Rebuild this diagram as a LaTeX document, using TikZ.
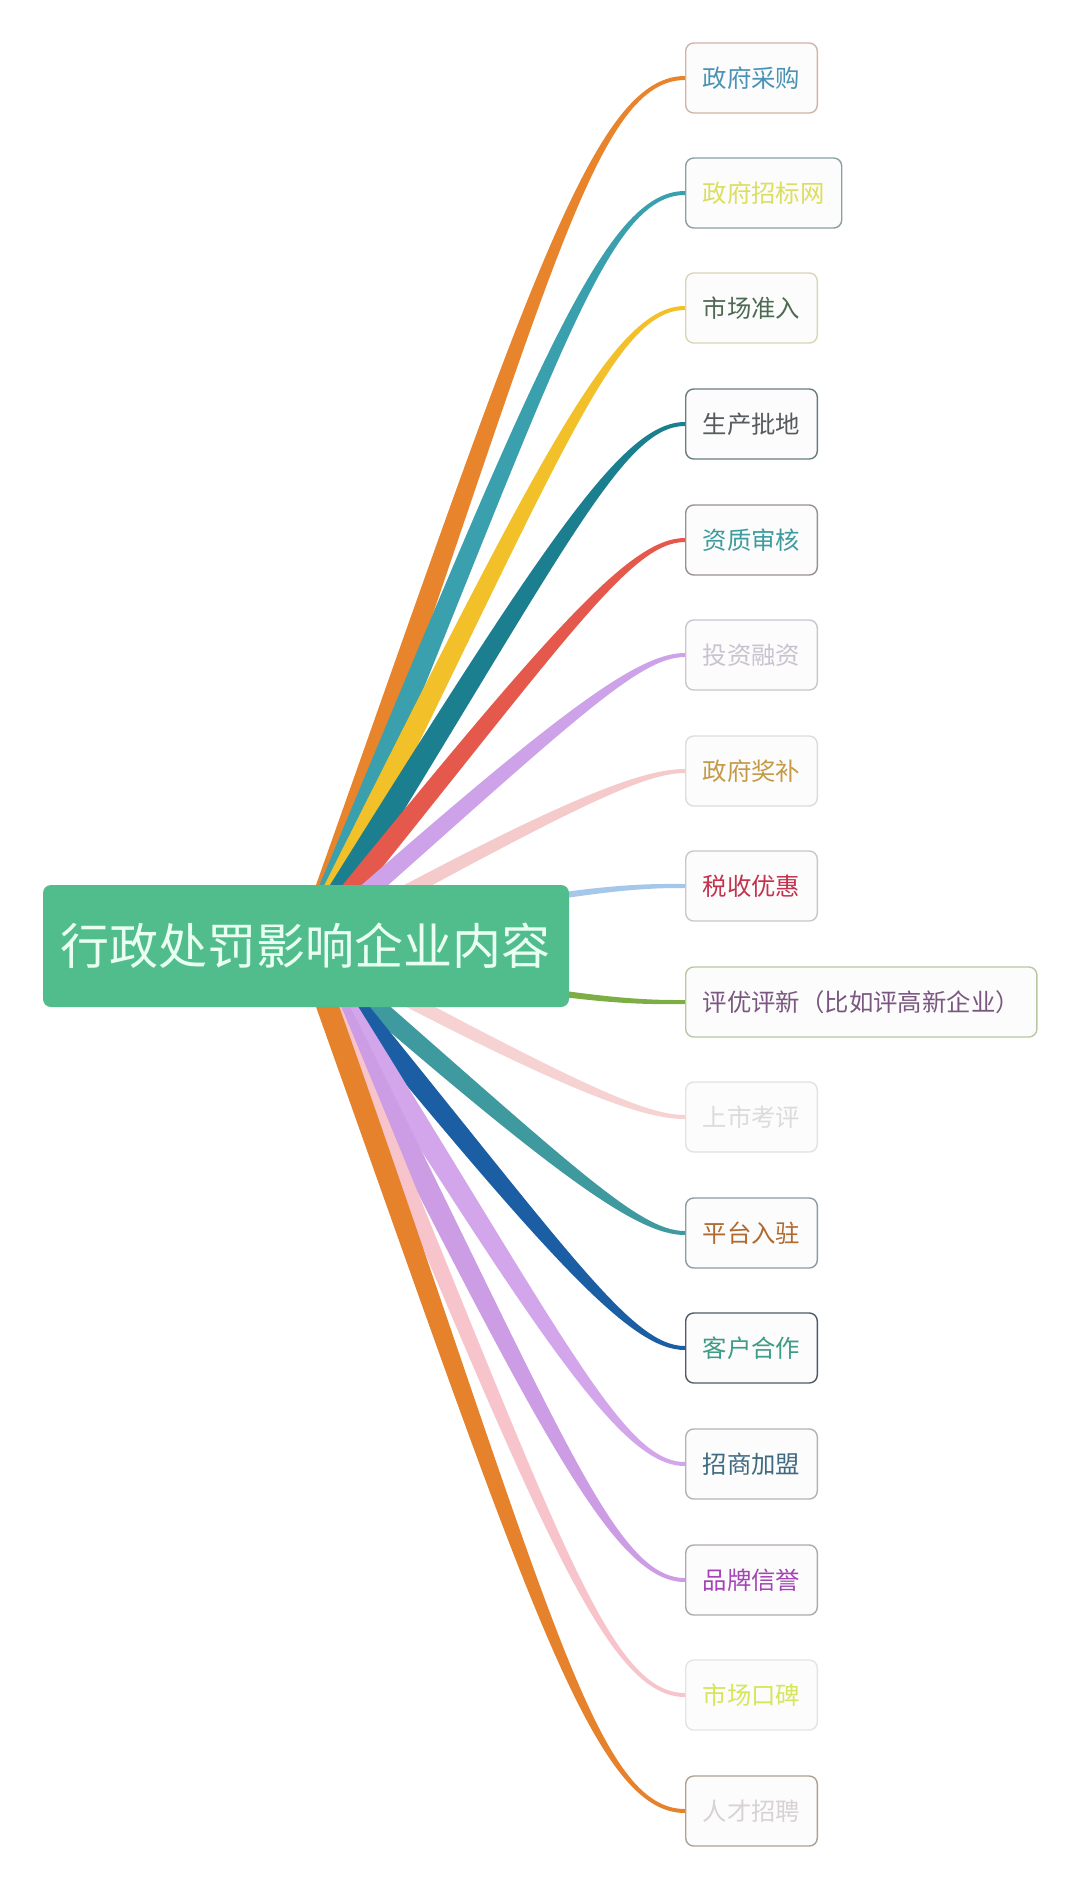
\documentclass[tikz,border=0pt]{standalone}
\usepackage{fontspec}
\newfontfamily\cjk{Noto Sans CJK SC}
\usetikzlibrary{backgrounds,calc}

% branch colours
\definecolor{br1}{HTML}{E8842C}
\definecolor{br2}{HTML}{3AA0AE}
\definecolor{br3}{HTML}{F2C029}
\definecolor{br4}{HTML}{1B7F90}
\definecolor{br5}{HTML}{E5584C}
\definecolor{br6}{HTML}{CDA2E8}
\definecolor{br7}{HTML}{F5CACA}
\definecolor{br8}{HTML}{A5C8EA}
\definecolor{br9}{HTML}{7DAE45}
\definecolor{br10}{HTML}{F7D2D2}
\definecolor{br11}{HTML}{3F9AA0}
\definecolor{br12}{HTML}{1B5EA3}
\definecolor{br13}{HTML}{D3A6EC}
\definecolor{br14}{HTML}{CC9CE4}
\definecolor{br15}{HTML}{F8C4CC}
\definecolor{br16}{HTML}{E6812C}
% label text colours
\definecolor{tx1}{HTML}{4A93B5}
\definecolor{tx2}{HTML}{DCDE60}
\definecolor{tx3}{HTML}{4E6A52}
\definecolor{tx4}{HTML}{555B5E}
\definecolor{tx5}{HTML}{3E9C9E}
\definecolor{tx6}{HTML}{C9C2CF}
\definecolor{tx7}{HTML}{C49A46}
\definecolor{tx8}{HTML}{C3334E}
\definecolor{tx9}{HTML}{7A5680}
\definecolor{tx10}{HTML}{DCDADA}
\definecolor{tx11}{HTML}{B0692E}
\definecolor{tx12}{HTML}{3E9C86}
\definecolor{tx13}{HTML}{3F6A80}
\definecolor{tx14}{HTML}{A444B6}
\definecolor{tx15}{HTML}{D6E65A}
\definecolor{tx16}{HTML}{D8D2D4}
% box borders
\definecolor{bd1}{HTML}{D2B4A4}
\definecolor{bd2}{HTML}{8AA0A4}
\definecolor{bd3}{HTML}{DAD6B4}
\definecolor{bd4}{HTML}{6A7C80}
\definecolor{bd5}{HTML}{9A9090}
\definecolor{bd6}{HTML}{CCC4CE}
\definecolor{bd7}{HTML}{DCDCDC}
\definecolor{bd8}{HTML}{C8C8C8}
\definecolor{bd9}{HTML}{B8C8A0}
\definecolor{bd10}{HTML}{E6E0E0}
\definecolor{bd11}{HTML}{8A9CA4}
\definecolor{bd12}{HTML}{4E5A66}
\definecolor{bd13}{HTML}{B8B0B8}
\definecolor{bd14}{HTML}{B0A8B0}
\definecolor{bd15}{HTML}{E4E4E4}
\definecolor{bd16}{HTML}{B0A090}
\definecolor{rootgreen}{HTML}{52BD8C}
\definecolor{roottext}{HTML}{E8FFF2}

\tikzset{
    root/.style={rectangle, rounded corners=4pt, fill=rootgreen, text=roottext,
        minimum width=263pt, minimum height=61pt, inner sep=0pt,
        font=\cjk\fontsize{24.5}{28}\selectfont},
    leaf/.style={rectangle, rounded corners=4pt, draw=#1, fill=white!98!gray,
        line width=0.7pt, minimum height=35pt, inner xsep=8.5pt, anchor=west,
        font=\cjk\fontsize{12.2}{14}\selectfont},
}

\begin{document}
\begin{tikzpicture}[x=0.5pt,y=-0.5pt]
    \useasboundingbox (0,0) rectangle (1080,1892);
    \node[root] (root) at (306,946) {行政处罚影响企业内容};
    \foreach \n/\y/\txt in {1/78/政府采购, 2/193/政府招标网, 3/308/市场准入, 4/424/生产批地,
            5/540/资质审核, 6/655/投资融资, 7/771/政府奖补, 8/886/税收优惠,
            9/1002/评优评新（比如评高新企业）, 10/1117/上市考评, 11/1233/平台入驻,
            12/1348/客户合作, 13/1464/招商加盟, 14/1580/品牌信誉, 15/1695/市场口碑,
            16/1811/人才招聘} {
        \node[leaf=bd\n, text=tx\n] (item\n) at (685,\y) {\txt};
    }
    % tapered branches, behind the boxes
    \begin{scope}[on background layer]
        \foreach \n/\y/\w in {1/78/11, 2/193/11, 3/308/11, 4/424/12, 5/540/10, 6/655/9,
                7/771/7, 8/886/4, 9/1002/4, 10/1117/7, 11/1233/10, 12/1348/11,
                13/1464/12, 14/1580/12, 15/1695/9, 16/1811/11} {
            \pgfmathsetmacro{\dy}{946-\y}
            \pgfmathsetmacro{\a}{atan2(\dy,379)+4*sign(\dy)}
            \pgfmathsetmacro{\dist}{10*sqrt(37.9*37.9+(\dy/10)*(\dy/10))}
            \pgfmathsetmacro{\lone}{0.72*\dist}
            \pgfmathsetmacro{\ltwo}{0.1*\dist}
            \fill[br\n] ($(root.center)+({\w*sin(\a)},{\w*cos(\a)})$)
                .. controls +({\lone*cos(\a)},{-\lone*sin(\a)}) and +(-\ltwo,0) .. ($(item\n.west)+(0,2)$)
                -- ($(item\n.west)+(0,-2)$)
                .. controls +(-\ltwo,0) and +({\lone*cos(\a)},{-\lone*sin(\a)}) .. ($(root.center)-({\w*sin(\a)},{\w*cos(\a)})$)
                -- cycle;
        }
    \end{scope}
\end{tikzpicture}
\end{document}
